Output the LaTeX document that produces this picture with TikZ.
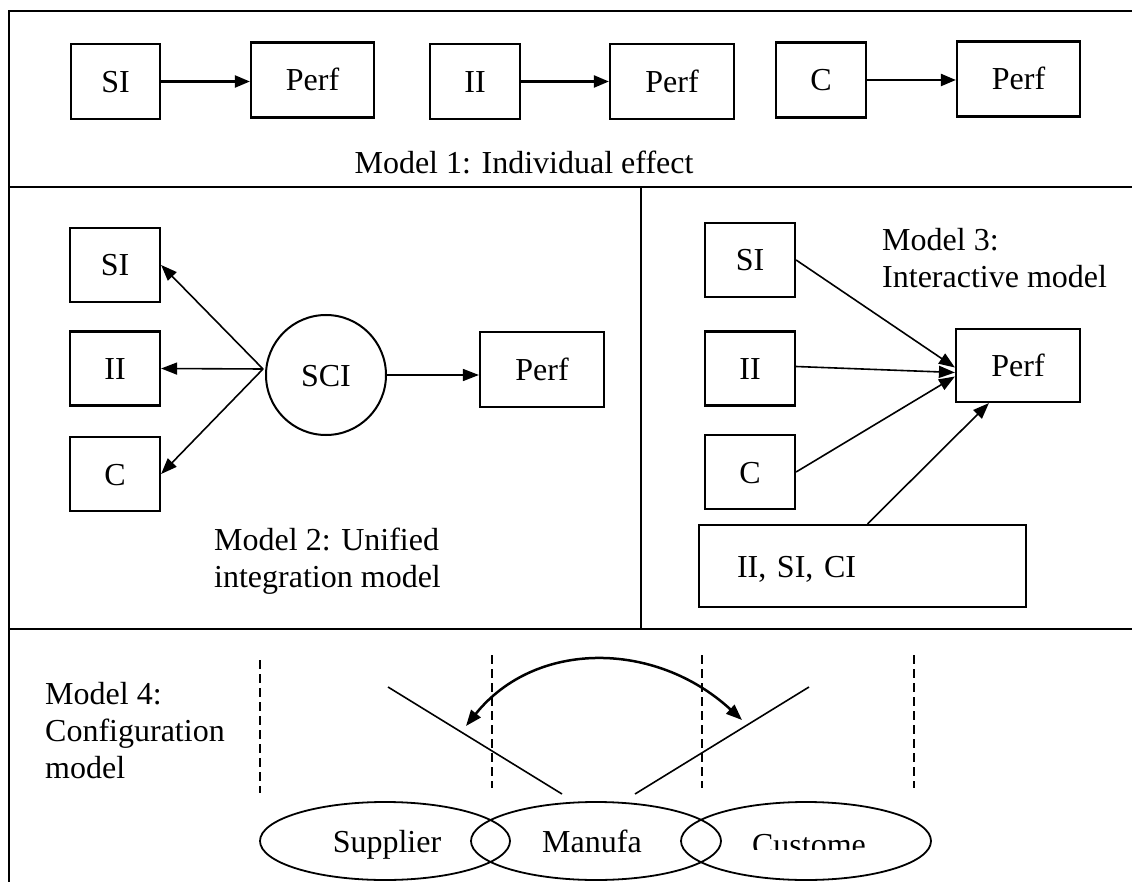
\documentclass[tikz,border=0pt]{standalone}
\usepackage{fontspec}
\setmainfont{Liberation Serif}
\usetikzlibrary{arrows.meta,calc,shapes.geometric}
\begin{document}
\begin{tikzpicture}[x=1pt,y=-1pt,
  every node/.style={font=\fontsize{32}{37}\selectfont, inner sep=0pt},
  box/.style={draw, line width=2.2pt, minimum height=75pt, text height=22pt, text depth=0pt},
  frame/.style={line width=2.6pt},
  arr/.style={line width=1.6pt, -{Triangle[length=16pt,width=12pt]}},
  arrthick/.style={line width=2.2pt, -{Triangle[length=15pt,width=12pt]}},
  sep/.style={line width=1.2pt, dash pattern=on 9pt off 5pt},
  vline/.style={line width=1.6pt},
  ell/.style={draw, ellipse, line width=1.8pt, minimum width=250pt, minimum height=78pt}
]
\useasboundingbox (0,0) rectangle (1132,882);
% frame
\draw[frame] (9,882) -- (9,11) -- (1132,11);
\draw[frame] (9,187) -- (1132,187);
\draw[frame] (641,187) -- (641,629);
\draw[frame] (9,629) -- (1132,629);

% Model 1
\node[box, minimum width=89pt] (si1) at (115.5,81.5) {SI};
\node[box, minimum width=123pt] (p1) at (312.5,80) {Perf};
\node[box, minimum width=90pt] (ii1) at (475,81.5) {II};
\node[box, minimum width=124pt] (p2) at (672,81.5) {Perf};
\node[box, minimum width=90pt] (c1) at (821,80) {C};
\node[box, minimum width=123pt] (p3) at (1018.5,79) {Perf};
\draw[arrthick] (si1.east) -- (si1.east -| p1.west);
\draw[arrthick] (ii1.east) -- (ii1.east -| p2.west);
\draw[arrthick] (c1.east) -- (c1.east -| p3.west);
\node (m1) at (524,162) {Model 1: Individual effect};

% Model 2
\node[box, minimum width=90pt, minimum height=74pt] (si2) at (115,265) {SI};
\node[box, minimum width=90pt, minimum height=74pt] (ii2) at (115,368.5) {II};
\node[box, minimum width=90pt, minimum height=74pt] (c2) at (115,474) {C};
\node[draw, circle, line width=2pt, minimum size=120pt, text height=22pt, text depth=0pt] (sci) at (326,375) {SCI};
\node[box, minimum width=124pt] (p4) at (542,369.5) {Perf};
\coordinate (hub) at (263,369);
\draw[arr] (hub) -- (si2.east);
\draw[arr] (hub) -- (ii2.east);
\draw[arr] (hub) -- (c2.east);
\draw[arr] (sci.east) -- (sci.east -| p4.west);
\node[anchor=west, align=left] (m2) at (214,561) {Model 2: Unified\\integration model};

% Model 3
\node[box, minimum width=90pt, minimum height=74pt] (si3) at (750,260) {SI};
\node[box, minimum width=90pt, minimum height=74pt] (ii3) at (750,368.5) {II};
\node[box, minimum width=90pt, minimum height=74pt] (c3) at (750,472) {C};
\node[box, minimum width=124pt, minimum height=73pt] (p5) at (1018,365.5) {Perf};
\node[box, minimum height=82pt, text width=251pt, align=left, inner xsep=38pt] (isc) at (862.5,566) {II, SI, CI};
\draw[arr] (si3.east) -- ([yshift=-2pt]p5.west);
\draw[arr] ([yshift=2pt]ii3.east) -- ([yshift=-7pt]p5.west);
\draw[arr] (c3.east) -- ([yshift=-11pt]p5.west);
\draw[arr] ([xshift=5pt]isc.north) -- ([xshift=34pt]p5.south west);
\node[anchor=west, align=left] (m3) at (882,258) {Model 3:\\Interactive model};

% Model 4
\node[anchor=west, align=left] (m4) at (45,731) {Model 4:\\Configuration\\model};
\coordinate (d1a) at (260,660); \coordinate (d1b) at (260,793);
\coordinate (d2a) at (492,655); \coordinate (d2b) at (492,788);
\coordinate (d3a) at (702,655); \coordinate (d3b) at (702,788);
\coordinate (d4a) at (914,655); \coordinate (d4b) at (914,788);
\draw[sep] (d1a) -- (d1b);
\draw[sep] (d2a) -- (d2b);
\draw[sep] (d3a) -- (d3b);
\draw[sep] (d4a) -- (d4b);
\coordinate (la) at (388,687); \coordinate (lb) at (562,794);
\coordinate (ra) at (809,687); \coordinate (rb) at (635,794);
\draw[vline] (la) -- (lb);
\draw[vline] (ra) -- (rb);
\coordinate (cl) at (466,726); \coordinate (cr) at (742,720);
\draw[line width=2.5pt, {Triangle[length=16pt,width=12pt]}-{Triangle[length=16pt,width=12pt]}]
  (cl) .. controls (535,640) and (655,640) .. (cr);
\node[ell] (sup) at (385,841) {};
\node[ell] (man) at (596,841) {};
\node[ell] (cus) at (806,841) {};
\node[anchor=base] (tsup) at (387,852) {Supplier};
\node[anchor=base] (tman) at (592,852) {Manufa};
\begin{scope}
  \clip (681,790) rectangle (931,849);
  \node[anchor=base] (tcus) at (809,855) {Custome};
\end{scope}
\end{tikzpicture}
\end{document}
